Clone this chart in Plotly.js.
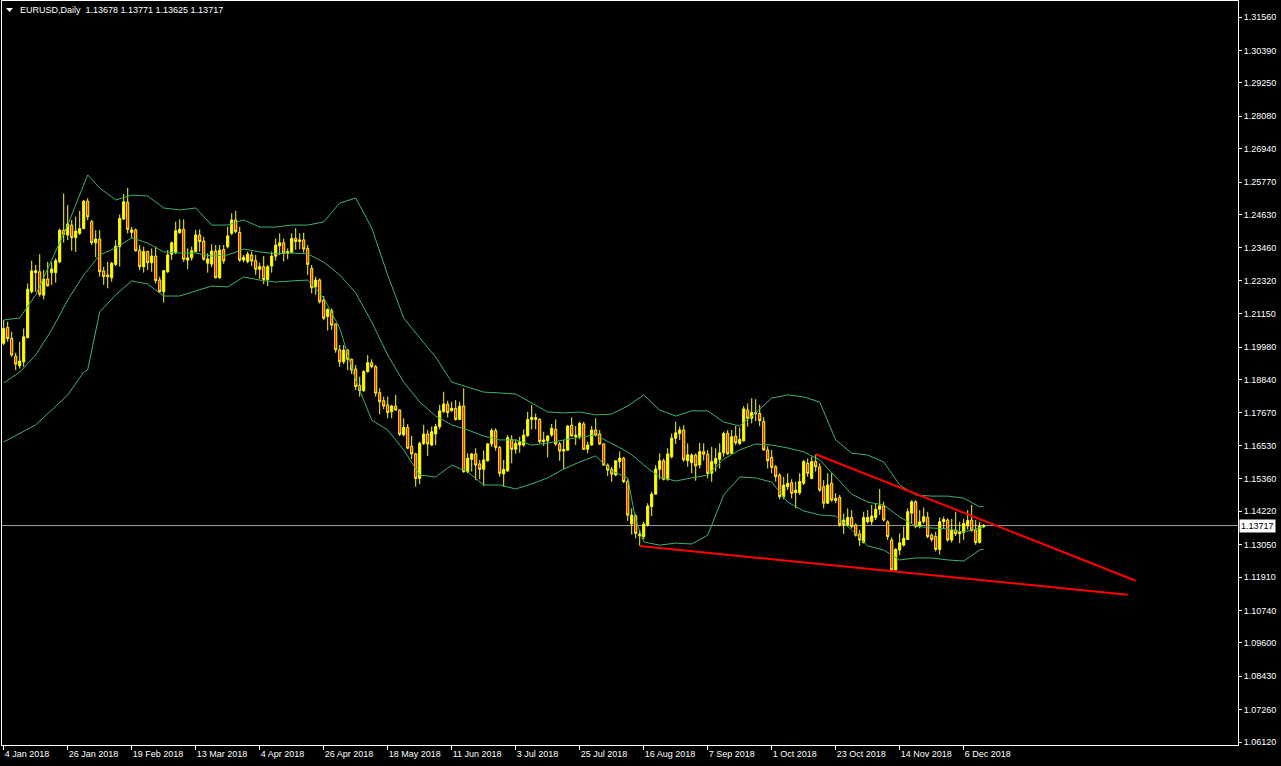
<!DOCTYPE html>
<html><head><meta charset="utf-8">
<script src="https://cdn.plot.ly/plotly-3.0.1.min.js"></script>
<style>html,body{margin:0;padding:0;background:#000;overflow:hidden}#chart{width:1281px;height:766px}</style>
</head><body><div id="chart"></div>
<script>
const headerText = "EURUSD,Daily  1.13678 1.13771 1.13625 1.13717";

const openP = [1.2011,1.2067,1.2028,1.1966,1.1932,1.1946,1.2031,1.2192,1.2259,1.2262,1.2180,1.2237,1.2259,1.2259,1.2297,1.2408,1.2391,1.2426,1.2382,1.2397,
1.2414,1.2510,1.2438,1.2364,1.2377,1.2265,1.2251,1.2241,1.2288,1.2350,1.2447,1.2506,1.2400,1.2409,1.2338,1.2280,1.2333,1.2294,1.2317,1.2233,
1.2192,1.2262,1.2324,1.2329,1.2399,1.2411,1.2303,1.2311,1.2333,1.2391,1.2370,1.2292,1.2289,1.2335,1.2241,1.2340,1.2350,1.2397,1.2444,1.2400,
1.2303,1.2298,1.2321,1.2301,1.2271,1.2280,1.2235,1.2282,1.2317,1.2353,1.2364,1.2327,1.2330,1.2379,1.2368,1.2374,1.2344,1.2274,1.2210,1.2233,
1.2163,1.2105,1.2125,1.2079,1.1988,1.1946,1.1987,1.1955,1.1921,1.1863,1.1845,1.1912,1.1943,1.1929,1.1838,1.1810,1.1795,1.1771,1.1791,1.1777,
1.1690,1.1716,1.1650,1.1623,1.1537,1.1660,1.1693,1.1654,1.1693,1.1719,1.1771,1.1798,1.1775,1.1783,1.1744,1.1791,1.1561,1.1604,1.1623,1.1588,
1.1569,1.1599,1.1658,1.1705,1.1646,1.1553,1.1563,1.1674,1.1639,1.1654,1.1654,1.1687,1.1744,1.1751,1.1744,1.1666,1.1669,1.1689,1.1709,1.1658,
1.1633,1.1636,1.1724,1.1684,1.1684,1.1728,1.1639,1.1654,1.1707,1.1693,1.1658,1.1584,1.1569,1.1549,1.1596,1.1608,1.1526,1.1377,1.1405,1.1342,
1.1333,1.1374,1.1438,1.1482,1.1569,1.1599,1.1534,1.1613,1.1678,1.1695,1.1707,1.1599,1.1592,1.1619,1.1584,1.1631,1.1622,1.1555,1.1590,1.1604,
1.1627,1.1695,1.1625,1.1686,1.1660,1.1669,1.1777,1.1748,1.1768,1.1765,1.1737,1.1637,1.1611,1.1578,1.1549,1.1473,1.1508,1.1522,1.1487,1.1487,
1.1520,1.1590,1.1537,1.1596,1.1578,1.1508,1.1450,1.1520,1.1467,1.1471,1.1374,1.1374,1.1400,1.1374,1.1342,1.1312,1.1385,1.1385,1.1400,1.1429,
1.1441,1.1385,1.1321,1.1216,1.1286,1.1303,1.1323,1.1415,1.1455,1.1368,1.1385,1.1400,1.1338,1.1333,1.1288,1.1385,1.1391,1.1321,1.1356,1.1343,
1.1347,1.1370,1.1391,1.1356,1.1312,1.13678];

const highP = [1.2093,1.2087,1.2052,1.1978,1.2017,1.2063,1.2221,1.2301,1.2286,1.2324,1.2268,1.2297,1.2295,1.2309,1.2414,1.2537,1.2496,1.2444,1.2455,1.2476,
1.2514,1.2520,1.2444,1.2408,1.2408,1.2280,1.2297,1.2297,1.2373,1.2463,1.2535,1.2556,1.2420,1.2414,1.2356,1.2350,1.2336,1.2344,1.2350,1.2245,
1.2268,1.2338,1.2368,1.2438,1.2446,1.2446,1.2344,1.2350,1.2409,1.2411,1.2385,1.2327,1.2359,1.2356,1.2356,1.2356,1.2420,1.2467,1.2476,1.2420,
1.2321,1.2333,1.2333,1.2321,1.2294,1.2317,1.2286,1.2333,1.2379,1.2397,1.2379,1.2344,1.2397,1.2415,1.2397,1.2399,1.2356,1.2286,1.2245,1.2239,
1.2177,1.2134,1.2134,1.2081,1.2005,1.2005,1.1990,1.1958,1.1935,1.1894,1.1917,1.1970,1.1955,1.1935,1.1853,1.1824,1.1824,1.1795,1.1830,1.1779,
1.1748,1.1728,1.1686,1.1627,1.1666,1.1725,1.1707,1.1719,1.1728,1.1795,1.1841,1.1810,1.1806,1.1812,1.1806,1.1853,1.1625,1.1627,1.1643,1.1602,
1.1635,1.1662,1.1713,1.1713,1.1651,1.1602,1.1689,1.1689,1.1674,1.1683,1.1709,1.1771,1.1795,1.1765,1.1748,1.1701,1.1689,1.1728,1.1744,1.1666,
1.1672,1.1724,1.1751,1.1721,1.1736,1.1736,1.1666,1.1721,1.1748,1.1707,1.1660,1.1590,1.1578,1.1601,1.1631,1.1613,1.1534,1.1432,1.1412,1.1356,
1.1385,1.1450,1.1490,1.1584,1.1625,1.1607,1.1643,1.1695,1.1736,1.1719,1.1724,1.1660,1.1625,1.1625,1.1662,1.1660,1.1637,1.1648,1.1643,1.1660,
1.1701,1.1707,1.1707,1.1721,1.1716,1.1791,1.1800,1.1818,1.1815,1.1795,1.1752,1.1650,1.1637,1.1584,1.1555,1.1543,1.1555,1.1534,1.1526,1.1555,
1.1602,1.1607,1.1613,1.1621,1.1590,1.1531,1.1555,1.1555,1.1485,1.1479,1.1414,1.1432,1.1426,1.1379,1.1356,1.1420,1.1426,1.1444,1.1450,1.1500,
1.1455,1.1390,1.1330,1.1292,1.1344,1.1368,1.1432,1.1461,1.1461,1.1426,1.1435,1.1420,1.1344,1.1350,1.1400,1.1403,1.1397,1.1395,1.1419,1.1385,
1.1396,1.1426,1.1444,1.1391,1.1385,1.13771];

const lowP = [1.2005,1.2017,1.1964,1.1917,1.1923,1.1929,1.2028,1.2186,1.2192,1.2175,1.2165,1.2210,1.2216,1.2224,1.2292,1.2364,1.2373,1.2336,1.2332,1.2391,
1.2411,1.2444,1.2356,1.2313,1.2245,1.2216,1.2204,1.2227,1.2282,1.2280,1.2444,1.2397,1.2380,1.2333,1.2268,1.2259,1.2268,1.2262,1.2221,1.2189,
1.2154,1.2258,1.2303,1.2324,1.2395,1.2297,1.2271,1.2301,1.2329,1.2333,1.2301,1.2259,1.2278,1.2239,1.2238,1.2290,1.2344,1.2391,1.2397,1.2297,
1.2295,1.2292,1.2282,1.2251,1.2236,1.2219,1.2212,1.2259,1.2301,1.2321,1.2298,1.2306,1.2327,1.2339,1.2341,1.2329,1.2251,1.2186,1.2181,1.2151,
1.2093,1.2056,1.2058,1.1978,1.1929,1.1938,1.1917,1.1903,1.1847,1.1824,1.1841,1.1908,1.1923,1.1824,1.1763,1.1780,1.1748,1.1748,1.1775,1.1686,
1.1684,1.1639,1.1604,1.1508,1.1517,1.1654,1.1616,1.1650,1.1654,1.1709,1.1768,1.1751,1.1771,1.1740,1.1742,1.1557,1.1555,1.1561,1.1531,1.1534,
1.1511,1.1596,1.1648,1.1634,1.1543,1.1508,1.1561,1.1590,1.1623,1.1627,1.1648,1.1683,1.1709,1.1709,1.1660,1.1651,1.1611,1.1683,1.1651,1.1599,
1.1569,1.1634,1.1684,1.1654,1.1674,1.1637,1.1625,1.1651,1.1684,1.1654,1.1581,1.1545,1.1525,1.1545,1.1572,1.1521,1.1388,1.1340,1.1327,1.1301,
1.1323,1.1368,1.1405,1.1479,1.1534,1.1530,1.1529,1.1607,1.1658,1.1672,1.1596,1.1578,1.1555,1.1529,1.1572,1.1600,1.1537,1.1525,1.1561,1.1572,
1.1613,1.1619,1.1623,1.1654,1.1654,1.1666,1.1719,1.1730,1.1738,1.1720,1.1634,1.1572,1.1555,1.1526,1.1464,1.1464,1.1496,1.1467,1.1432,1.1479,
1.1514,1.1543,1.1534,1.1561,1.1490,1.1432,1.1447,1.1455,1.1450,1.1368,1.1342,1.1368,1.1362,1.1333,1.1300,1.1309,1.1379,1.1374,1.1391,1.1409,
1.1385,1.1321,1.1213,1.1213,1.1268,1.1298,1.1321,1.1380,1.1362,1.1362,1.1379,1.1327,1.1315,1.1281,1.1270,1.1362,1.1315,1.1312,1.1335,1.1310,
1.1321,1.1358,1.1350,1.1304,1.1309,1.13625];

const closeP = [1.2063,1.2028,1.1970,1.1938,1.1949,1.2034,1.2201,1.2265,1.2266,1.2183,1.2237,1.2213,1.2272,1.2301,1.2408,1.2394,1.2430,1.2382,1.2405,1.2414,
1.2510,1.2455,1.2364,1.2377,1.2262,1.2245,1.2245,1.2292,1.2352,1.2449,1.2508,1.2411,1.2409,1.2336,1.2280,1.2333,1.2294,1.2317,1.2231,1.2192,
1.2266,1.2321,1.2364,1.2406,1.2411,1.2306,1.2311,1.2336,1.2391,1.2368,1.2306,1.2307,1.2335,1.2241,1.2338,1.2300,1.2388,1.2444,1.2403,1.2303,
1.2313,1.2324,1.2300,1.2271,1.2280,1.2235,1.2280,1.2317,1.2356,1.2364,1.2327,1.2333,1.2379,1.2368,1.2374,1.2342,1.2288,1.2206,1.2233,1.2157,
1.2099,1.2130,1.2075,1.1988,1.1946,1.1987,1.1955,1.1917,1.1859,1.1845,1.1912,1.1943,1.1929,1.1836,1.1806,1.1791,1.1768,1.1791,1.1777,1.1692,
1.1716,1.1643,1.1623,1.1537,1.1660,1.1693,1.1658,1.1701,1.1719,1.1774,1.1798,1.1768,1.1783,1.1744,1.1791,1.1561,1.1608,1.1623,1.1584,1.1569,
1.1602,1.1658,1.1705,1.1646,1.1555,1.1569,1.1680,1.1639,1.1660,1.1666,1.1689,1.1744,1.1751,1.1744,1.1666,1.1672,1.1686,1.1713,1.1658,1.1633,
1.1639,1.1721,1.1686,1.1689,1.1730,1.1639,1.1654,1.1707,1.1689,1.1658,1.1584,1.1566,1.1552,1.1599,1.1608,1.1526,1.1408,1.1408,1.1344,1.1336,
1.1377,1.1440,1.1482,1.1570,1.1599,1.1534,1.1623,1.1678,1.1697,1.1707,1.1602,1.1620,1.1619,1.1581,1.1631,1.1622,1.1555,1.1596,1.1607,1.1627,
1.1695,1.1623,1.1683,1.1662,1.1674,1.1781,1.1748,1.1768,1.1765,1.1740,1.1637,1.1599,1.1576,1.1543,1.1473,1.1514,1.1520,1.1485,1.1496,1.1526,
1.1596,1.1555,1.1596,1.1578,1.1496,1.1450,1.1514,1.1461,1.1459,1.1374,1.1391,1.1400,1.1368,1.1338,1.1321,1.1400,1.1400,1.1405,1.1429,1.1441,
1.1391,1.1333,1.1216,1.1288,1.1311,1.1327,1.1420,1.1455,1.1368,1.1385,1.1403,1.1333,1.1323,1.1288,1.1385,1.1393,1.1321,1.1356,1.1343,1.1349,
1.1379,1.1389,1.1354,1.1312,1.1370,1.13717];

const dateTickIdx = [0,16,32,48,64,80,96,112,128,144,160,176,192,208,224,240];
const dateTickLabels = ["4 Jan 2018","26 Jan 2018","19 Feb 2018","13 Mar 2018","4 Apr 2018","26 Apr 2018","18 May 2018","11 Jun 2018","3 Jul 2018","25 Jul 2018","16 Aug 2018","7 Sep 2018","1 Oct 2018","23 Oct 2018","14 Nov 2018","6 Dec 2018"];

const priceTicks = [1.31560,1.30390,1.29250,1.28080,1.26940,1.25770,1.24630,1.23460,1.22320,1.21150,1.19980,1.18840,1.17670,1.16530,1.15360,1.14220,1.13050,1.11910,1.10740,1.09600,1.08430,1.07260,1.06120];

const bandIdx = [0,4,8,12,16,20,21,24,28,32,36,40,44,48,52,56,60,64,68,72,76,80,84,88,92,96,100,104,108,112,116,120,124,128,132,136,140,144,148,152,156,158,160,164,168,172,176,180,184,188,192,196,200,204,208,212,216,220,224,228,232,236,240,244,245];
const bandUpper = [1.2093,1.2100,1.2181,1.2303,1.2426,1.2567,1.2602,1.2556,1.2514,1.2531,1.2528,1.2486,1.2479,1.2486,1.2426,1.2426,1.2444,1.2419,1.2419,1.2426,1.2426,1.2437,1.2503,1.2521,1.2416,1.2251,1.2100,1.2030,1.1963,1.1875,1.1858,1.1840,1.1837,1.1833,1.1802,1.1770,1.1767,1.1770,1.1760,1.1763,1.1791,1.1812,1.1830,1.1777,1.1756,1.1774,1.1774,1.1735,1.1721,1.1767,1.1819,1.1830,1.1823,1.1805,1.1672,1.1626,1.1619,1.1595,1.1514,1.1479,1.1475,1.1475,1.1468,1.1437,1.1440];
const bandMiddle = [1.1872,1.1910,1.1970,1.2058,1.2163,1.2251,1.2268,1.2321,1.2346,1.2381,1.2363,1.2332,1.2328,1.2328,1.2317,1.2321,1.2342,1.2332,1.2325,1.2328,1.2325,1.2296,1.2251,1.2188,1.2086,1.1970,1.1875,1.1805,1.1756,1.1725,1.1707,1.1686,1.1672,1.1672,1.1654,1.1661,1.1672,1.1682,1.1689,1.1658,1.1630,1.1609,1.1584,1.1542,1.1528,1.1539,1.1549,1.1605,1.1637,1.1658,1.1654,1.1644,1.1630,1.1602,1.1542,1.1482,1.1454,1.1444,1.1402,1.1370,1.1363,1.1360,1.1349,1.1363,1.1367];
const bandLower = [1.1665,1.1696,1.1725,1.1777,1.1830,1.1910,1.1918,1.2121,1.2181,1.2230,1.2219,1.2177,1.2177,1.2195,1.2212,1.2209,1.2244,1.2233,1.2226,1.2230,1.2233,1.2170,1.2065,1.1882,1.1742,1.1707,1.1637,1.1549,1.1542,1.1584,1.1560,1.1514,1.1514,1.1500,1.1518,1.1539,1.1570,1.1595,1.1616,1.1563,1.1539,1.1391,1.1314,1.1303,1.1310,1.1307,1.1338,1.1479,1.1542,1.1539,1.1524,1.1454,1.1423,1.1409,1.1405,1.1356,1.1300,1.1286,1.1251,1.1258,1.1258,1.1251,1.1247,1.1286,1.1289];

const upperTrendIdx = [203, 283];
const upperTrendPrice = [1.1622, 1.1178];
const lowerTrendIdx = [159, 281];
const lowerTrendPrice = [1.1300, 1.1129];

const barIdx = closeP.map((_, k) => k);
const lastClose = closeP[closeP.length - 1];
const FONT = "Liberation Sans, Arial, sans-serif";
const bandColor = "#3cb371";

const traces = [
  {type:"candlestick", x:barIdx, open:openP, high:highP, low:lowP, close:closeP,
   increasing:{line:{color:"#ffff00",width:1}, fillcolor:"#ffff00"},
   decreasing:{line:{color:"#ffff00",width:1}, fillcolor:"#ff0000"},
   whiskerwidth:0, hoverinfo:"skip", showlegend:false},
  {type:"scatter", mode:"lines", x:bandIdx, y:bandUpper, line:{color:bandColor,width:1}, hoverinfo:"skip", showlegend:false},
  {type:"scatter", mode:"lines", x:bandIdx, y:bandMiddle, line:{color:bandColor,width:1}, hoverinfo:"skip", showlegend:false},
  {type:"scatter", mode:"lines", x:bandIdx, y:bandLower, line:{color:bandColor,width:1}, hoverinfo:"skip", showlegend:false},
  {type:"scatter", mode:"lines", x:upperTrendIdx, y:upperTrendPrice, line:{color:"#ff0000",width:2}, hoverinfo:"skip", showlegend:false},
  {type:"scatter", mode:"lines", x:lowerTrendIdx, y:lowerTrendPrice, line:{color:"#ff0000",width:2}, hoverinfo:"skip", showlegend:false}
];

const W = 1281, H = 766, ML = 2, MR = 43, MT = 1, MB = 21;
const PW = W - ML - MR, PH = H - MT - MB;
const px = v => (v - ML) / PW;
const py = v => 1 - (v - MT) / PH;

const layout = {
  width:W, height:H,
  margin:{l:ML, r:MR, t:MT, b:MB, pad:0},
  paper_bgcolor:"#000000", plot_bgcolor:"#000000",
  font:{family:FONT, size:9, color:"#ffffff"},
  showlegend:false, hovermode:false, boxgap:0.25,
  xaxis:{range:[-0.425, 308.575], tickmode:"array", tickvals:dateTickIdx, ticktext:dateTickLabels,
    ticks:"outside", ticklen:4, tickwidth:1, tickcolor:"#ffffff", ticklabelposition:"outside right",
    showline:true, linecolor:"#ffffff", linewidth:1, mirror:true, showgrid:false, zeroline:false,
    rangeslider:{visible:false}, tickfont:{family:FONT, size:9, color:"#ffffff"}, fixedrange:true},
  yaxis:{range:[1.06017, 1.32122], side:"right", tickmode:"array", tickvals:priceTicks,
    ticktext:priceTicks.map(v => v.toFixed(5)), ticks:"outside", ticklen:3, tickwidth:1, tickcolor:"#ffffff",
    showline:true, linecolor:"#ffffff", linewidth:1, mirror:true, showgrid:false, zeroline:false,
    tickfont:{family:FONT, size:9, color:"#ffffff"}, fixedrange:true},
  shapes:[
    {type:"line", xref:"paper", x0:0, x1:1, yref:"y", y0:lastClose, y1:lastClose, line:{color:"#a0a0a4", width:1}, layer:"below"},
    {type:"path", xref:"paper", yref:"paper", path:`M ${px(6)} ${py(8)} L ${px(13)} ${py(8)} L ${px(9.5)} ${py(12)} Z`, fillcolor:"#ffffff", line:{width:0}}
  ],
  annotations:[
    {xref:"paper", yref:"paper", x:px(18), y:py(10), xanchor:"left", yanchor:"middle", showarrow:false,
     text:headerText.replace(/ /g, "&nbsp;"), font:{family:FONT, size:9, color:"#ffffff"}},
    {xref:"paper", yref:"y", x:1, xshift:1, y:lastClose, xanchor:"left", yanchor:"middle", showarrow:false,
     text:lastClose.toFixed(5), bgcolor:"#ffffff", borderpad:1, font:{family:FONT, size:9, color:"#000000"}}
  ]
};

Plotly.newPlot("chart", traces, layout, {displayModeBar:false, staticPlot:true});
</script>
</body></html>
